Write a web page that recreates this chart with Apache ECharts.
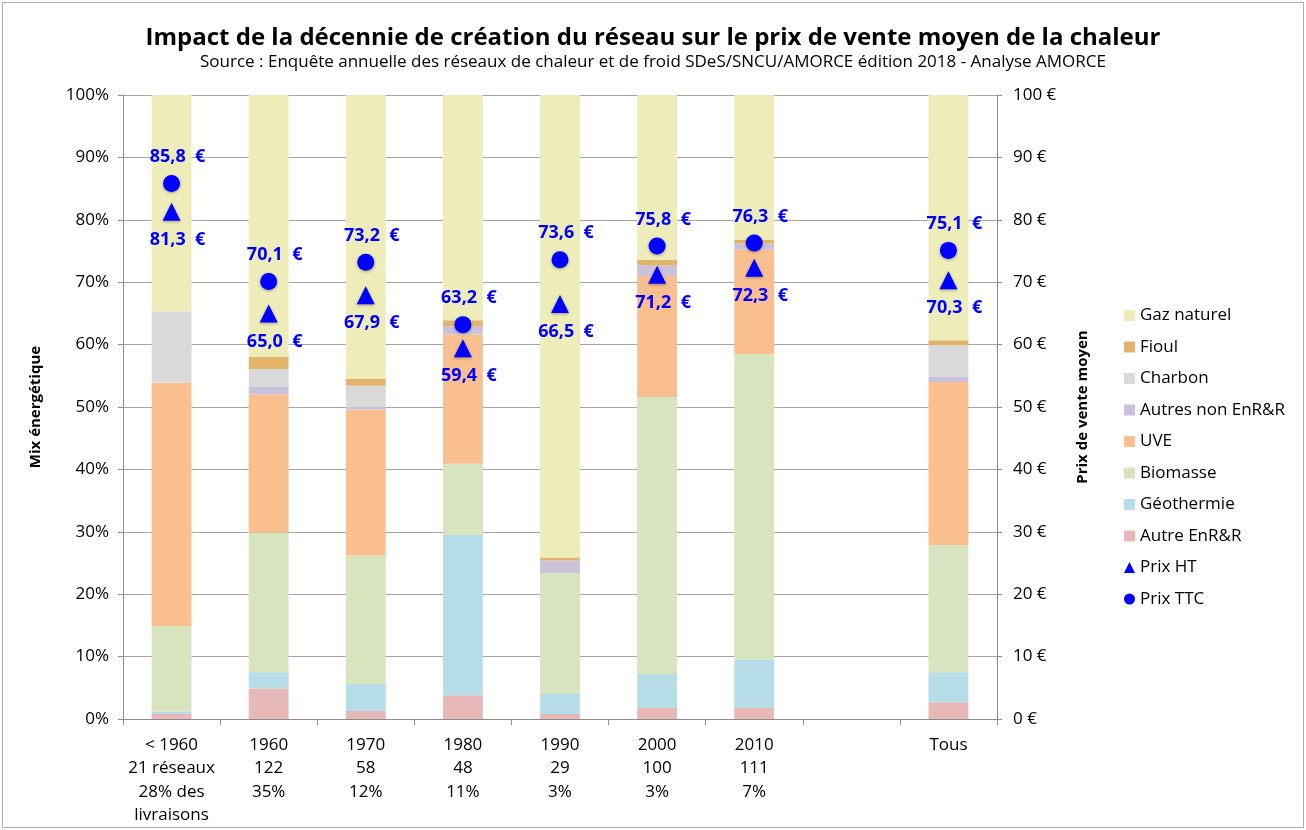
<!DOCTYPE html>
<html>
<head>
<meta charset="utf-8">
<script src="https://cdn.jsdelivr.net/npm/echarts@6/dist/echarts.min.js"></script>
<style>
  html, body { margin: 0; padding: 0; background: #fff; }
  #main { position: absolute; left: 2px; top: 2px; width: 1302px; height: 826px; border: 1px solid #b0b0b0; box-sizing: border-box; }
</style>
</head>
<body>
<div id="main"></div>
<script>
// catégories (décennie de création)
var categories = ['< 1960\n21 réseaux\n28% des\nlivraisons', '1960\n122\n35%', '1970\n58\n12%', '1980\n48\n11%',
  '1990\n29\n3%', '2000\n100\n3%', '2010\n111\n7%', '', 'Tous'];

// mix énergétique (%)
var autreEnrr   = [0.8, 4.9, 1.3, 3.8, 0.8, 1.8, 1.8, null, 2.7];
var geothermie  = [0.4, 2.6, 4.3, 25.7, 3.2, 5.4, 7.7, null, 4.8];
var biomasse    = [13.7, 22.4, 20.6, 11.4, 19.4, 44.4, 49.0, null, 20.4];
var uve         = [39.0, 22.1, 23.4, 20.7, 0, 19.4, 16.7, null, 26.1];
var autresNon   = [0, 1.2, 0.4, 1.3, 2.0, 1.7, 1.0, null, 0.8];
var charbon     = [11.4, 2.9, 3.4, 0, 0, 0, 0, null, 5.1];
var fioul       = [0, 1.9, 1.1, 1.0, 0.5, 0.9, 0.6, null, 0.8];
var gazNaturel  = [34.7, 42.0, 45.5, 36.1, 74.1, 26.4, 23.2, null, 39.3];

// prix de vente moyen (€)
var prixHT  = [81.3, 65.0, 67.9, 59.4, 66.5, 71.2, 72.3, null, 70.3];
var prixTTC = [85.8, 70.1, 73.2, 63.2, 73.6, 75.8, 76.3, null, 75.1];

var chart = echarts.init(document.getElementById('main'));
var font = 'Open Sans';

function barSerie(name, data, color) {
  return {
    name: name, type: 'bar', stack: 'mix', data: data, barWidth: '41%',
    itemStyle: { color: color },
    emphasis: { disabled: true }
  };
}

function prixLabel(p) {
  return p.value.toFixed(1).replace('.', ',') + '  €';
}

var option = {
  animation: false,
  textStyle: { fontFamily: font },
  title: {
    text: 'Impact de la décennie de création du réseau sur le prix de vente moyen de la chaleur',
    subtext: 'Source : Enquête annuelle des réseaux de chaleur et de froid SDeS/SNCU/AMORCE édition 2018 - Analyse AMORCE',
    left: 'center', top: 18, itemGap: 4,
    textStyle: { fontSize: 24, fontWeight: 'bold', color: '#000', fontFamily: font },
    subtextStyle: { fontSize: 17, color: '#000', fontFamily: font }
  },
  legend: {
    orient: 'vertical', left: 1116, top: 299, itemGap: 14.5,
    itemWidth: 11, itemHeight: 11,
    textStyle: { fontSize: 17, color: '#000', fontFamily: font },
    data: [
      { name: 'Gaz naturel', icon: 'rect' }, { name: 'Fioul', icon: 'rect' }, { name: 'Charbon', icon: 'rect' },
      { name: 'Autres non EnR&R', icon: 'rect' }, { name: 'UVE', icon: 'rect' }, { name: 'Biomasse', icon: 'rect' },
      { name: 'Géothermie', icon: 'rect' }, { name: 'Autre EnR&R', icon: 'rect' },
      { name: 'Prix HT', icon: 'triangle' }, { name: 'Prix TTC', icon: 'circle' }
    ]
  },
  grid: { left: 120, right: 306, top: 92, bottom: 108 },
  xAxis: {
    type: 'category', data: categories,
    axisLine: { lineStyle: { color: '#8c8c8c' } },
    axisTick: { show: true, length: 6, lineStyle: { color: '#8c8c8c' } },
    axisLabel: { interval: 0, fontSize: 17, lineHeight: 23.5, color: '#000', margin: 14, fontFamily: font }
  },
  yAxis: [
    {
      type: 'value', min: 0, max: 100, interval: 10,
      name: 'Mix énergétique', nameLocation: 'middle', nameGap: 80,
      nameTextStyle: { fontSize: 15, fontWeight: 'bold', color: '#000', fontFamily: font },
      axisLine: { show: true, lineStyle: { color: '#8c8c8c' } },
      axisTick: { show: true, length: 5, lineStyle: { color: '#8c8c8c' } },
      axisLabel: { formatter: '{value}%', fontSize: 17, color: '#000', margin: 14, fontFamily: font },
      splitLine: { lineStyle: { color: '#a6a6a6', width: 1 } }
    },
    {
      type: 'value', min: 0, max: 100, interval: 10, position: 'right',
      name: 'Prix de vente moyen', nameLocation: 'middle', nameGap: 78, nameRotate: 90,
      nameTextStyle: { fontSize: 15, fontWeight: 'bold', color: '#000', fontFamily: font },
      axisLine: { show: true, lineStyle: { color: '#8c8c8c' } },
      axisTick: { show: true, length: 5, lineStyle: { color: '#8c8c8c' } },
      axisLabel: { formatter: '{value} €', fontSize: 17, color: '#000', margin: 16, fontFamily: font },
      splitLine: { show: false }
    }
  ],
  series: [
    barSerie('Autre EnR&R', autreEnrr, '#e6b9b8'),
    barSerie('Géothermie', geothermie, '#b7dde8'),
    barSerie('Biomasse', biomasse, '#d7e4bd'),
    barSerie('UVE', uve, '#f9bf8f'),
    barSerie('Autres non EnR&R', autresNon, '#ccc1da'),
    barSerie('Charbon', charbon, '#d9d9d9'),
    barSerie('Fioul', fioul, '#e2b46a'),
    barSerie('Gaz naturel', gazNaturel, '#eeecb9'),
    {
      name: 'Prix HT', type: 'scatter', yAxisIndex: 1, data: prixHT,
      symbol: 'triangle', symbolSize: 18,
      itemStyle: { color: '#0000ff', opacity: 1, shadowBlur: 3, shadowColor: 'rgba(0,0,0,0.35)', shadowOffsetY: 1 },
      label: { show: true, position: 'bottom', distance: 10, offset: [6, 0], formatter: prixLabel,
        fontSize: 18, fontWeight: 'bold', color: '#0000ff', fontFamily: font }
    },
    {
      name: 'Prix TTC', type: 'scatter', yAxisIndex: 1, data: prixTTC,
      symbol: 'circle', symbolSize: 17,
      itemStyle: { color: '#0000ff', opacity: 1, shadowBlur: 3, shadowColor: 'rgba(0,0,0,0.35)', shadowOffsetY: 1 },
      label: { show: true, position: 'top', distance: 9, offset: [6, 0], formatter: prixLabel,
        fontSize: 18, fontWeight: 'bold', color: '#0000ff', fontFamily: font }
    }
  ]
};

chart.setOption(option);
</script>
</body>
</html>
